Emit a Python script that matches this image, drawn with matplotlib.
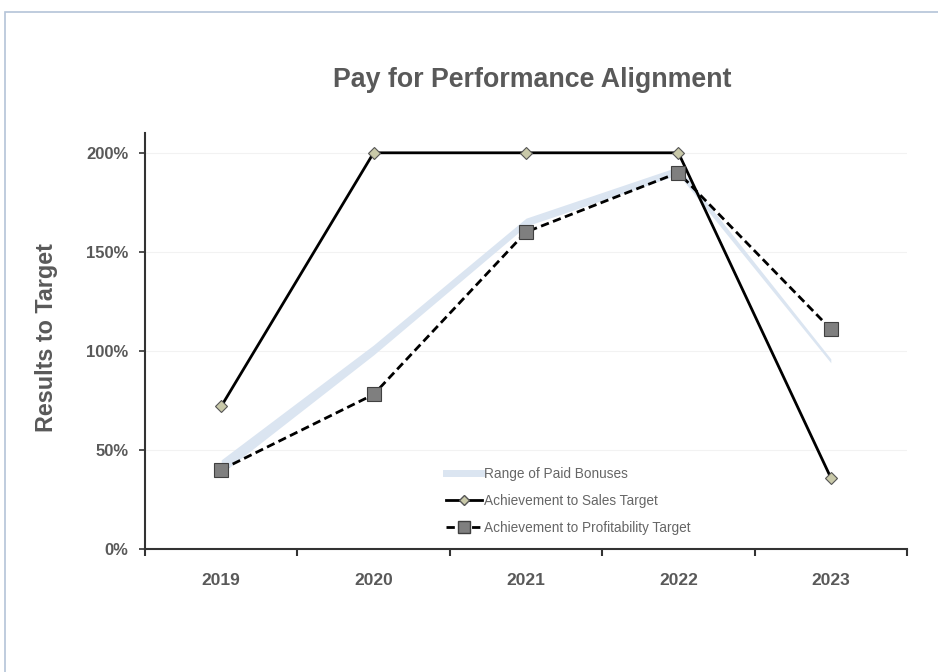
import matplotlib
matplotlib.use("Agg")
import matplotlib.pyplot as plt
from matplotlib.patches import Rectangle
from matplotlib.ticker import FuncFormatter, FixedLocator
from matplotlib.lines import Line2D

years = ["2019", "2020", "2021", "2022", "2023"]
sales = [72, 200, 200, 200, 36]
profit = [40, 78, 160, 190, 111]
band_low = [38, 98, 163, 189, 94]
band_high = [45, 103, 167, 193, 96]

plt.rcParams['font.family'] = ['Liberation Sans', 'DejaVu Sans']
grey = "#595959"

fig = plt.figure(figsize=(9.38, 6.72), dpi=100)
fig.patch.set_facecolor("white")
fig.patches.append(Rectangle((5/938, -0.01), 1.1, 0.982 + 0.01, transform=fig.transFigure,
                             fill=False, edgecolor="#b4c4d8", linewidth=1.2))

ax = fig.add_axes([145/938, 1-549/672, (907-145)/938, (549-133)/672])
x = list(range(len(years)))

ax.fill_between(x, band_low, band_high, color="#dbe5f1", linewidth=0, zorder=1)
ax.plot(x, sales, color="black", lw=2, marker="D", markersize=6.5,
        markerfacecolor="#c9c9a9", markeredgecolor="#555555", markeredgewidth=0.8, zorder=3)
ax.plot(x, profit, color="black", lw=2, ls=(0, (3, 1.6)), marker="s", markersize=10,
        markerfacecolor="#7f7f7f", markeredgecolor="#404040", markeredgewidth=0.8, zorder=4)

ax.set_xlim(-0.5, len(years) - 0.5)
ax.set_ylim(0, 210)
ax.set_yticks([0, 50, 100, 150, 200])
ax.yaxis.set_major_formatter(FuncFormatter(lambda v, p: f"{int(v)}%"))
ax.set_xticks(x)
ax.set_xticklabels(years)
ax.xaxis.set_minor_locator(FixedLocator([i - 0.5 for i in range(len(years) + 1)]))
ax.tick_params(axis="x", which="major", length=0, pad=17, labelsize=12.5, colors=grey)
ax.tick_params(axis="x", which="minor", length=5, width=1.5, color="#333333", direction="out")
ax.tick_params(axis="y", length=4, width=1.2, color="#333333", labelsize=12, colors=grey, pad=8)
for lbl in ax.get_xticklabels() + ax.get_yticklabels():
    lbl.set_fontweight("bold")
    lbl.set_color(grey)

ax.grid(axis="y", color="#f2f2f2", lw=0.8)
ax.set_axisbelow(True)
for s in ["top", "right"]:
    ax.spines[s].set_visible(False)
for s in ["left", "bottom"]:
    ax.spines[s].set_color("#333333")
    ax.spines[s].set_linewidth(1.5)

fig.text(532/938, 1-80/672, "Pay for Performance Alignment", ha="center", va="center",
         fontsize=19.3, fontweight="bold", color=grey)
fig.text(47/938, 1-338/672, "Results to Target", ha="center", va="center", rotation=90,
         fontsize=16.8, fontweight="bold", color=grey)

handles = [
    Line2D([0], [0], color="#dbe5f1", lw=5),
    Line2D([0], [0], color="black", lw=2, marker="D", markersize=5.5,
           markerfacecolor="#c9c9a9", markeredgecolor="#555555"),
    Line2D([0], [0], color="black", lw=2, ls=(0, (3, 1.6)), marker="s", markersize=8,
           markerfacecolor="#7f7f7f", markeredgecolor="#404040"),
]
labels = ["Range of Paid Bonuses", "Achievement to Sales Target", "Achievement to Profitability Target"]
leg = ax.legend(handles, labels, loc="upper left", bbox_to_anchor=(434/938, 1-455/672),
                bbox_transform=fig.transFigure, frameon=False, fontsize=9.8,
                handlelength=2.6, handletextpad=0.15, labelspacing=0.95, labelcolor="#666666")

fig.savefig("out.png", dpi=100, facecolor="white")
